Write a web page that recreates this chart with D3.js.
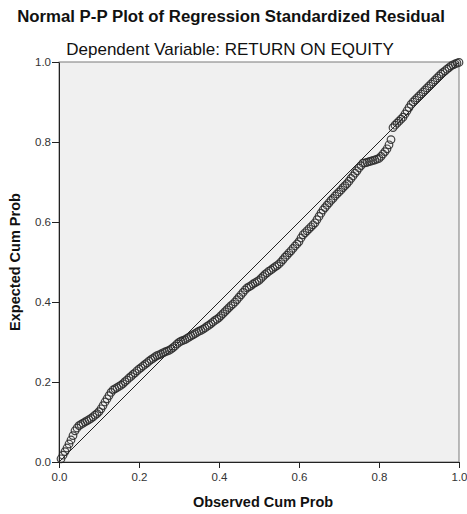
<!DOCTYPE html>
<html>
<head>
<meta charset="utf-8">
<script src="https://cdn.jsdelivr.net/npm/d3@7"></script>
<style>
  body { margin: 0; background: #fff; }
  svg { display: block; font-family: "Liberation Sans", Arial, sans-serif; }
  .axis path, .axis line { stroke: #222; }
  .axis text { fill: #333; font-size: 11.5px; }
</style>
</head>
<body>
<div id="the_chart"></div>
<script>
var title = "Normal P-P Plot of Regression Standardized Residual";
var subtitle = "Dependent Variable: RETURN ON EQUITY";
var xLabel = "Observed Cum Prob";
var yLabel = "Expected Cum Prob";
var ticks = [0, 0.2, 0.4, 0.6, 0.8, 1.0];

// observed / expected cumulative probabilities
var observed = [
  0.005, 0.010, 0.015, 0.020, 0.025, 0.030, 0.035, 0.040, 0.045, 0.050,
  0.055, 0.060, 0.065, 0.070, 0.075, 0.080, 0.085, 0.090, 0.095, 0.100,
  0.105, 0.110, 0.115, 0.120, 0.125, 0.130, 0.135, 0.140, 0.145, 0.150,
  0.155, 0.160, 0.165, 0.170, 0.175, 0.180, 0.185, 0.190, 0.195, 0.200,
  0.205, 0.210, 0.215, 0.220, 0.225, 0.230, 0.235, 0.240, 0.245, 0.250,
  0.255, 0.260, 0.265, 0.270, 0.275, 0.280, 0.285, 0.290, 0.295, 0.300,
  0.305, 0.310, 0.315, 0.320, 0.325, 0.330, 0.335, 0.340, 0.345, 0.350,
  0.355, 0.360, 0.365, 0.370, 0.375, 0.380, 0.385, 0.390, 0.395, 0.400,
  0.405, 0.410, 0.415, 0.420, 0.425, 0.430, 0.435, 0.440, 0.445, 0.450,
  0.455, 0.460, 0.465, 0.470, 0.475, 0.480, 0.485, 0.490, 0.495, 0.500,
  0.505, 0.510, 0.515, 0.520, 0.525, 0.530, 0.535, 0.540, 0.545, 0.550,
  0.555, 0.560, 0.565, 0.570, 0.575, 0.580, 0.585, 0.590, 0.595, 0.600,
  0.605, 0.610, 0.615, 0.620, 0.625, 0.630, 0.635, 0.640, 0.645, 0.650,
  0.655, 0.660, 0.665, 0.670, 0.675, 0.680, 0.685, 0.690, 0.695, 0.700,
  0.705, 0.710, 0.715, 0.720, 0.725, 0.730, 0.735, 0.740, 0.745, 0.750,
  0.755, 0.760, 0.765, 0.770, 0.775, 0.780, 0.785, 0.790, 0.795, 0.800,
  0.805, 0.810, 0.815, 0.820, 0.825, 0.830, 0.835, 0.840, 0.845, 0.850,
  0.855, 0.860, 0.865, 0.870, 0.875, 0.880, 0.885, 0.890, 0.895, 0.900,
  0.905, 0.910, 0.915, 0.920, 0.925, 0.930, 0.935, 0.940, 0.945, 0.950,
  0.955, 0.960, 0.965, 0.970, 0.975, 0.980, 0.985, 0.990, 0.995, 1.000
];
var expected = [
  0.008, 0.017, 0.026, 0.035, 0.045, 0.055, 0.066, 0.078, 0.085, 0.091,
  0.094, 0.097, 0.100, 0.103, 0.106, 0.109, 0.113, 0.117, 0.121, 0.126,
  0.133, 0.141, 0.150, 0.158, 0.166, 0.174, 0.180, 0.183, 0.186, 0.189,
  0.192, 0.196, 0.201, 0.205, 0.210, 0.214, 0.219, 0.223, 0.228, 0.232,
  0.236, 0.240, 0.244, 0.248, 0.252, 0.256, 0.259, 0.263, 0.266, 0.268,
  0.270, 0.273, 0.275, 0.277, 0.279, 0.282, 0.286, 0.290, 0.295, 0.299,
  0.302, 0.304, 0.306, 0.309, 0.312, 0.315, 0.318, 0.321, 0.324, 0.327,
  0.329, 0.332, 0.335, 0.339, 0.342, 0.346, 0.350, 0.354, 0.357, 0.361,
  0.366, 0.371, 0.376, 0.381, 0.386, 0.391, 0.395, 0.400, 0.406, 0.412,
  0.418, 0.424, 0.430, 0.435, 0.438, 0.441, 0.445, 0.448, 0.451, 0.454,
  0.459, 0.464, 0.469, 0.473, 0.477, 0.480, 0.484, 0.488, 0.491, 0.495,
  0.500, 0.506, 0.512, 0.517, 0.523, 0.528, 0.534, 0.540, 0.545, 0.551,
  0.560, 0.568, 0.573, 0.578, 0.583, 0.588, 0.593, 0.598, 0.606, 0.614,
  0.622, 0.630, 0.636, 0.642, 0.648, 0.654, 0.659, 0.665, 0.670, 0.675,
  0.680, 0.686, 0.691, 0.696, 0.702, 0.709, 0.715, 0.722, 0.728, 0.735,
  0.741, 0.747, 0.748, 0.749, 0.751, 0.752, 0.754, 0.755, 0.757, 0.759,
  0.764, 0.770, 0.776, 0.783, 0.793, 0.806, 0.836, 0.842, 0.847, 0.852,
  0.857, 0.862, 0.870, 0.878, 0.886, 0.894, 0.900, 0.905, 0.910, 0.915,
  0.920, 0.925, 0.930, 0.935, 0.940, 0.945, 0.950, 0.955, 0.960, 0.965,
  0.970, 0.974, 0.978, 0.982, 0.986, 0.990, 0.993, 0.995, 0.997, 0.999
];

var w = 467, h = 514;
var plotLeft = 59, plotTop = 62, plotSize = 400;

var points = observed.map((o, i) => ({ obs: o, exp: expected[i] }));

var xscale = d3.scaleLinear().domain([0, 1]).range([plotLeft, plotLeft + plotSize]);
var yscale = d3.scaleLinear().domain([0, 1]).range([plotTop + plotSize, plotTop]);

var svg = d3.select("#the_chart")
    .append("svg")
    .attr("width", w)
    .attr("height", h);

// titles
svg.append("text")
    .attr("x", 231).attr("y", 22)
    .attr("text-anchor", "middle")
    .style("font-size", "16.8px")
    .style("font-weight", "bold")
    .style("fill", "#111")
    .text(title);

svg.append("text")
    .attr("x", 230).attr("y", 55)
    .attr("text-anchor", "middle")
    .style("font-size", "17px")
    .style("fill", "#111")
    .text(subtitle);

// plot area
svg.append("rect")
    .attr("x", xscale(0)).attr("y", yscale(1))
    .attr("width", xscale(1) - xscale(0))
    .attr("height", yscale(0) - yscale(1))
    .attr("fill", "#f0f0f0")
    .attr("stroke", "#7a7a7a")
    .attr("stroke-width", 1);

// reference diagonal
svg.append("line")
    .attr("x1", xscale(0)).attr("y1", yscale(0))
    .attr("x2", xscale(1)).attr("y2", yscale(1))
    .attr("stroke", "#222")
    .attr("stroke-width", 1);

// points
svg.selectAll("circle.pt")
    .data(points)
    .enter().append("circle")
    .attr("class", "pt")
    .attr("cx", d => xscale(d.obs))
    .attr("cy", d => yscale(d.exp))
    .attr("r", 3.8)
    .attr("fill", "none")
    .attr("stroke", "#2e2e2e")
    .attr("stroke-opacity", 0.9)
    .attr("stroke-width", 1.2);

// axes
var xaxis = d3.axisBottom(xscale)
    .tickValues(ticks)
    .tickSize(6)
    .tickSizeOuter(0)
    .tickFormat(d3.format(".1f"));
svg.append("g")
    .attr("class", "axis")
    .attr("transform", "translate(0," + yscale(0) + ")")
    .call(xaxis)
    .call(g => g.selectAll("text").attr("dy", "0.9em"));

var yaxis = d3.axisLeft(yscale)
    .tickValues(ticks)
    .tickSize(7)
    .tickSizeOuter(0)
    .tickPadding(1)
    .tickFormat(d3.format(".1f"));
svg.append("g")
    .attr("class", "axis")
    .attr("transform", "translate(" + xscale(0) + ",0)")
    .call(yaxis);

// axis titles
svg.append("text")
    .attr("x", (xscale(0) + xscale(1)) / 2 + 4).attr("y", 507)
    .attr("text-anchor", "middle")
    .style("font-size", "14.5px")
    .style("font-weight", "bold")
    .style("fill", "#111")
    .text(xLabel);

svg.append("text")
    .attr("transform", "translate(20," + ((yscale(0) + yscale(1)) / 2) + ") rotate(-90)")
    .attr("text-anchor", "middle")
    .style("font-size", "14.5px")
    .style("font-weight", "bold")
    .style("fill", "#111")
    .text(yLabel);
</script>
</body>
</html>
